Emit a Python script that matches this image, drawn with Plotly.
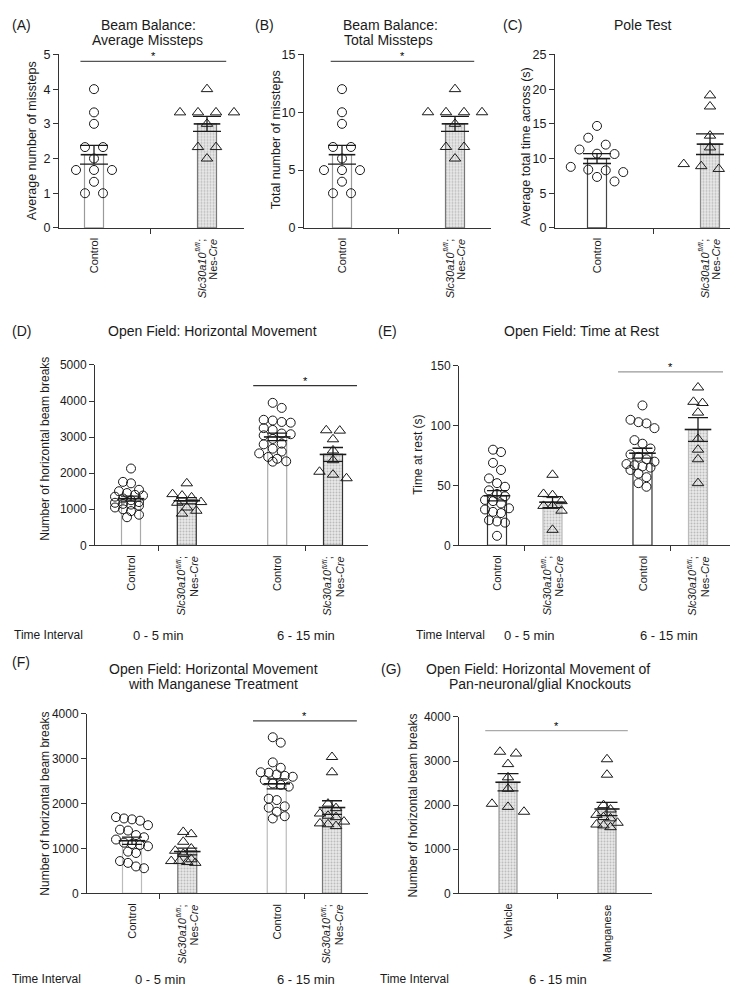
import numpy as np
import plotly.graph_objects as go

W, H = 738, 987
FONT = "Arial, Liberation Sans, Helvetica, sans-serif"
INK = "#1a1a1a"

# ---------------- data ----------------
GENE = "Slc30a10"
ALLELE = "fl/fl"
DRIVER = "Nes-<i>Cre</i>"
TWO_GROUP_LABELS = ["Control", "MUT"]
FOUR_GROUP_LABELS = ["Control", "MUT", "Control", "MUT"]
G_LABELS = ["Vehicle", "Manganese"]
TIME_INTERVALS = ["0 - 5 min", "6 - 15 min"]

A_CONTROL = [4.0, 3.33, 3.0, 2.33, 2.33, 2.0, 1.67, 1.67, 1.67, 1.33, 1.0, 1.0]
A_MUTANT = [4.0, 3.33, 3.33, 3.33, 3.33, 3.0, 2.33, 2.33, 2.0]
B_CONTROL = [12, 10, 9, 7, 7, 6, 5, 5, 5, 4, 3, 3]
B_MUTANT = [12, 10, 10, 10, 10, 9, 7, 7, 6]
C_CONTROL = [14.7, 13.0, 12.0, 11.3, 10.7, 10.65, 8.8, 8.4, 8.3, 8.05, 7.35, 6.7]
C_MUTANT = [19.1, 17.5, 13.3, 11.6, 9.2, 8.5, 8.5, 8.9]

D_CONTROL_0_5 = [2130, 1760, 1720, 1540, 1500, 1450, 1400, 1380, 1350, 1300, 1250,
                 1200, 1180, 1150, 1130, 1100, 1050, 1000, 950, 850, 780]
D_MUTANT_0_5 = [1720, 1420, 1380, 1330, 1200, 1180, 1050, 960, 880]
D_CONTROL_6_15 = [3950, 3810, 3480, 3460, 3420, 3400, 3250, 3200, 3100, 3080, 3050,
                  2950, 2820, 2800, 2680, 2600, 2550, 2450, 2400, 2330, 2320]
D_MUTANT_6_15 = [3180, 3190, 2940, 2630, 2360, 2040, 1860, 1960]

E_CONTROL_0_5 = [80, 78, 69, 63, 56, 52, 49, 46, 43, 41, 38, 37, 35, 31, 30, 28, 27,
                 21, 20, 19, 8]
E_MUTANT_0_5 = [59, 43, 42, 37, 33, 33, 29, 13]
E_CONTROL_6_15 = [117, 105, 103, 102, 98, 88, 85, 81, 76, 74, 72, 70, 68, 67, 66, 65,
                  63, 60, 57, 52, 49]
E_MUTANT_6_15 = [132, 120, 119, 111, 89, 80, 72, 52]

F_CONTROL_0_5 = [1700, 1670, 1650, 1620, 1520, 1420, 1400, 1300, 1250, 1200, 1130,
                 1100, 1080, 1050, 930, 900, 720, 680, 600, 560]
F_MUTANT_0_5 = [1370, 1320, 1150, 1000, 950, 880, 760, 720, 720, 700, 680]
F_CONTROL_6_15 = [3480, 3360, 2920, 2800, 2700, 2690, 2650, 2620, 2600, 2520, 2450,
                  2420, 2380, 2110, 2080, 1940, 1910, 1820, 1720, 1670]
F_MUTANT_6_15 = [3040, 2700, 2000, 1900, 1780, 1730, 1700, 1600, 1560, 1540, 1500]

G_VEHICLE = [3170, 3210, 2930, 2630, 2370, 2030, 1850, 1960]
G_MANGANESE = [3040, 2690, 2000, 1900, 1780, 1730, 1700, 1600, 1560, 1540, 1500]

# ---------------- layout constants (pixels) ----------------
PATTERN = dict(shape=".", fgcolor="#8c8c8c", bgcolor="#e9e9e9", size=3, solidity=0.35)

# group tuple: (values, symbol, spacing px, max points per row, bar outline, patterned)
panels = [
    dict(key="A", xpx=(51, 236), ypx=(40, 216), cpx=(86, 199), pos=[0, 1], ymax=5, dtick=1,
         labels=TWO_GROUP_LABELS, mids=[0.5], cap=14, barpx=19,
         groups=[(A_CONTROL, "circle", 18, 6, "#9a9a9a", False), (A_MUTANT, "tri", 18, 6, "#777777", True)],
         sig=dict(x0=-0.12, x1=1.17, y=4.8, color="#555"),
         ytitle="Average number of missteps", ytpx=(24, 128), ytsize=12.5, tsize=12.5),
    dict(key="B", xpx=(296, 483), ypx=(40, 216), cpx=(334, 447), pos=[0, 1], ymax=15, dtick=5,
         labels=TWO_GROUP_LABELS, mids=[0.5], cap=14, barpx=19,
         groups=[(B_CONTROL, "circle", 18, 6, "#9a9a9a", False), (B_MUTANT, "tri", 18, 6, "#777777", True)],
         sig=dict(x0=-0.1, x1=1.17, y=14.4, color="#555"),
         ytitle="Total number of missteps", ytpx=(268, 127), ytsize=12.5, tsize=12.5),
    dict(key="C", xpx=(547, 737), ypx=(40, 216), cpx=(589, 702), pos=[0, 1], ymax=25, dtick=5,
         labels=TWO_GROUP_LABELS, mids=[0.5], cap=14, barpx=19,
         groups=[(C_CONTROL, "circle", 17.5, 4, "#444444", False), (C_MUTANT, "tri", 17.5, 4, "#888888", True)],
         sig=None,
         ytitle="Average total time across (s)", ytpx=(518, 134), ytsize=12.5, tsize=12.5),
    dict(key="D", xpx=(87, 360), ypx=(355, 538), cpx=(123, 325), pos=[0, 1, 2.62, 3.62], ymax=5000,
         dtick=1000, labels=FOUR_GROUP_LABELS, mids=[0.5, 3.12], cap=10, barpx=19,
         groups=[(D_CONTROL_0_5, "circle", 8, 4, "#aaaaaa", False), (D_MUTANT_0_5, "tri", 9.5, 4, "#333333", True),
                 (D_CONTROL_6_15, "circle", 9, 4, "#aaaaaa", False), (D_MUTANT_6_15, "tri", 13.5, 3, "#333333", True)],
         sig=dict(x0=2.19, x1=4.05, y=4426, color="#333"),
         ytitle="Number of horizontal beam breaks", ytpx=(37, 440), ytsize=12, tsize=12),
    dict(key="E", xpx=(451, 726), ypx=(356, 538), cpx=(489, 690), pos=[0, 1, 2.62, 3.62], ymax=150,
         dtick=50, labels=FOUR_GROUP_LABELS, mids=[0.5, 3.12], cap=10, barpx=19,
         groups=[(E_CONTROL_0_5, "circle", 8, 4, "#333333", False), (E_MUTANT_0_5, "tri", 9, 3, "#bbbbbb", True),
                 (E_CONTROL_6_15, "circle", 8, 4, "#333333", False), (E_MUTANT_6_15, "tri", 9, 3, "#bbbbbb", True)],
         sig=dict(x0=2.18, x1=4.07, y=145, color="#999"),
         ytitle="Time at rest (s)", ytpx=(410, 446), ytsize=12, tsize=12),
    dict(key="F", xpx=(79, 360), ypx=(709, 891), cpx=(124, 324), pos=[0, 1, 2.62, 3.62], ymax=4000,
         dtick=1000, labels=FOUR_GROUP_LABELS, mids=[0.5, 3.12], cap=10, barpx=19,
         groups=[(F_CONTROL_0_5, "circle", 8, 5, "#bbbbbb", False), (F_MUTANT_0_5, "tri", 8, 5, "#777777", True),
                 (F_CONTROL_6_15, "circle", 8, 5, "#bbbbbb", False), (F_MUTANT_6_15, "tri", 8, 5, "#777777", True)],
         sig=dict(x0=2.19, x1=4.07, y=3846, color="#444"),
         ytitle="Number of horizontal beam breaks", ytpx=(37, 800), ytsize=12, tsize=12),
    dict(key="G", xpx=(451, 644), ypx=(712, 891), cpx=(500, 599), pos=[0, 1], ymax=4000,
         dtick=1000, labels=G_LABELS, mids=[0.5], cap=10.5, barpx=18,
         groups=[(G_VEHICLE, "tri", 16, 3, "#999999", True), (G_MANGANESE, "tri", 7, 5, "#999999", True)],
         sig=dict(x0=-0.23, x1=1.21, y=3687, color="#aaa"),
         ytitle="Number of horizontal beam breaks", ytpx=(405, 802), ytsize=12, tsize=12),
]

titles = [  # (text, x center px, y center px)
    ("Beam Balance:", 140, 10), ("Average Missteps", 139, 25),
    ("Beam Balance:", 382, 10), ("Total Missteps", 380, 25),
    ("Pole Test", 634, 10),
    ("Open Field: Horizontal Movement", 204, 321),
    ("Open Field: Time at Rest", 573, 321),
    ("Open Field: Horizontal Movement", 205, 663), ("with Manganese Treatment", 205, 679),
    ("Open Field: Horizontal Movement of", 530, 663), ("Pan-neuronal/glial Knockouts", 532, 679),
]
panel_tags = [("(A)", 2, 10), ("(B)", 245, 10), ("(C)", 493, 10), ("(D)", 2, 321),
              ("(E)", 368, 321), ("(F)", 2, 656), ("(G)", 371, 663)]
interval_rows = [  # (label texts, centers px, y px)
    (TIME_INTERVALS, [150, 298], 629), (TIME_INTERVALS, [521, 661], 629),
    (TIME_INTERVALS, [152, 298], 978), (TIME_INTERVALS[1:], [550], 978),
]
interval_heads = [(4, 629), (406, 629), (2, 978), (370, 978)]
CAT_FONT = 11
SUP_FONT = 7.5
CAT_GAP = 9              # px between axis line and the end of a rotated category label
LINE1_SHIFT, LINE2_SHIFT, SUP_RAISE = -5.5, 6.5, -3.5
# advance widths (em) of the Arial/Liberation glyph runs, to chain the rotated pieces
EM_SEMI, EM_ALLELE = 0.278, 1.278


def fx(px):
    return px / W


def fy(py):
    return 1 - py / H


def swarm(vals, ypu, xpu, spacing, maxrow, rowh=9.0, diam=9.0):
    n = len(vals)
    order = sorted(range(n), key=lambda i: -vals[i])
    rows, cur, start = [], [], None
    for i in order:
        y = vals[i] * ypu
        if cur and (start - y > rowh or len(cur) >= maxrow):
            rows.append(cur)
            cur = []
        if not cur:
            start = y
        cur.append(i)
    if cur:
        rows.append(cur)
    placed = []
    off = [0.0] * n
    for row in rows:
        k = len(row)
        base = [(j - (k - 1) / 2) * spacing for j in range(k)]
        best = None
        for shift in (0.0, spacing / 2, -spacing / 2):
            xs = [b + shift for b in base]
            cost = 0.0
            for xi, i in zip(xs, row):
                for (px, py) in placed:
                    d = ((xi - px) ** 2 + (vals[i] * ypu - py) ** 2) ** 0.5
                    if d < diam * 0.85:
                        cost += diam * 0.85 - d
            cost += abs(shift) * 0.01
            if best is None or cost < best[0]:
                best = (cost, xs)
        for xi, i in zip(best[1], row):
            off[i] = xi / xpu
            placed.append((xi, vals[i] * ypu))
    return off


fig = go.Figure()
layout = dict(
    width=W, height=H, margin=dict(l=0, r=0, t=0, b=0),
    paper_bgcolor="white", plot_bgcolor="white", showlegend=False,
    font=dict(family=FONT, color=INK), shapes=[], annotations=[],
)


def cat_label(text, xa, x, top_px, xshift=0, size=CAT_FONT):
    return dict(text=text, xref=xa, yref="paper", x=x, y=fy(top_px), xshift=xshift,
                textangle=-90, showarrow=False, xanchor="center", yanchor="top",
                font=dict(size=size, family=FONT, color=INK))


def genotype_label(xa, x, axis_px):
    t0 = axis_px + CAT_GAP
    t1 = t0 + EM_SEMI * CAT_FONT
    t2 = t1 + EM_ALLELE * SUP_FONT
    return [
        cat_label(";", xa, x, t0, LINE1_SHIFT),
        cat_label("<i>%s</i>" % ALLELE, xa, x, t1, LINE1_SHIFT + SUP_RAISE, SUP_FONT),
        cat_label("<i>%s</i>" % GENE, xa, x, t2, LINE1_SHIFT),
        cat_label(DRIVER, xa, x, t0, LINE2_SHIFT),
    ]


for k, p in enumerate(panels):
    n = "" if k == 0 else str(k + 1)
    xa, ya = "x" + n, "y" + n
    pos = p["pos"]
    unit = (p["cpx"][1] - p["cpx"][0]) / (pos[-1] - pos[0])
    xr = [pos[0] - (p["cpx"][0] - p["xpx"][0]) / unit, pos[-1] + (p["xpx"][1] - p["cpx"][1]) / unit]
    ypu = (p["ypx"][1] - p["ypx"][0]) / p["ymax"]
    bw = p["barpx"] / unit

    means, sems = [], []
    for gi, (vals, sym, spc, maxrow, lcol, patterned) in enumerate(p["groups"]):
        v = np.array(vals, dtype=float)
        m = v.mean()
        s = v.std(ddof=1) / np.sqrt(len(v))
        means.append(m)
        sems.append(s)
        marker = dict(color="white", line=dict(color=lcol, width=1.2))
        if patterned:
            marker = dict(color="#e9e9e9", pattern=PATTERN, line=dict(color=lcol, width=1.2))
        fig.add_trace(go.Bar(x=[pos[gi]], y=[m], width=[bw], marker=marker,
                             xaxis=xa, yaxis=ya, hoverinfo="skip"))
        offs = swarm(vals, ypu, unit, spc, maxrow)
        symbol = "circle-open" if sym == "circle" else "triangle-up-open"
        size = 9 if sym == "circle" else 10
        fig.add_trace(go.Scatter(
            x=[pos[gi] + o for o in offs], y=vals, mode="markers", cliponaxis=False,
            marker=dict(symbol=symbol, size=size, color=INK, line=dict(width=1, color=INK)),
            xaxis=xa, yaxis=ya, hoverinfo="skip"))
    # mean line + SEM whiskers on top
    fig.add_trace(go.Scatter(
        x=pos, y=means, mode="markers", cliponaxis=False,
        marker=dict(symbol="line-ew", size=p["barpx"], color=INK, line=dict(width=1.6, color=INK)),
        error_y=dict(type="data", array=sems, visible=True, width=p["cap"], thickness=1.3, color=INK),
        xaxis=xa, yaxis=ya, hoverinfo="skip"))

    layout["xaxis" + n] = dict(
        domain=[fx(p["xpx"][0]), fx(p["xpx"][1])], anchor=ya, range=xr,
        showline=True, linecolor="#333", linewidth=1, showgrid=False, zeroline=False,
        showticklabels=False, ticks="",
        minor=dict(tickmode="array", tickvals=p["mids"], ticks="outside", ticklen=5,
                   tickcolor="#333", tickwidth=1, showgrid=False),
        fixedrange=True,
    )
    layout["yaxis" + n] = dict(
        domain=[fy(p["ypx"][1]), fy(p["ypx"][0])], anchor=xa, range=[0, p["ymax"]],
        showline=True, linecolor="#333", linewidth=1, showgrid=False, zeroline=False,
        ticks="outside", ticklen=5, tickcolor="#333", dtick=p["dtick"], tick0=0,
        tickfont=dict(size=p["tsize"], family=FONT, color=INK), fixedrange=True,
    )
    # category labels (rotated, read bottom-to-top, ending just under the axis)
    for x, lab in zip(pos, p["labels"]):
        if lab == "MUT":
            layout["annotations"].extend(genotype_label(xa, x, p["ypx"][1]))
        else:
            layout["annotations"].append(cat_label(lab, xa, x, p["ypx"][1] + CAT_GAP))
    layout["annotations"].append(dict(
        text=p["ytitle"], x=fx(p["ytpx"][0]), y=fy(p["ytpx"][1]), xref="paper", yref="paper",
        textangle=-90, showarrow=False, xanchor="center", yanchor="middle",
        font=dict(size=p["ytsize"], family=FONT, color=INK)))
    if p["sig"]:
        sg = p["sig"]
        layout["shapes"].append(dict(type="line", xref=xa, yref=ya, x0=sg["x0"], x1=sg["x1"],
                                     y0=sg["y"], y1=sg["y"], line=dict(color=sg["color"], width=1.2)))
        layout["annotations"].append(dict(
            text="*", xref=xa, yref=ya, x=(sg["x0"] + sg["x1"]) / 2, y=sg["y"], yanchor="bottom",
            showarrow=False, yshift=-3, font=dict(size=11, family=FONT, color="#000000")))

for text, cx, cy in titles:
    layout["annotations"].append(dict(text=text, x=fx(cx), y=fy(cy), xref="paper", yref="paper",
                                      showarrow=False, xanchor="center", yanchor="middle",
                                      font=dict(size=14, family=FONT, color=INK)))
for text, lx, cy in panel_tags:
    layout["annotations"].append(dict(text=text, x=fx(lx), y=fy(cy), xref="paper", yref="paper",
                                      showarrow=False, xanchor="left", yanchor="middle",
                                      font=dict(size=14, family=FONT, color=INK)))
for (lx, cy) in interval_heads:
    layout["annotations"].append(dict(text="Time Interval", x=fx(lx), y=fy(cy), xref="paper",
                                      yref="paper", showarrow=False, xanchor="left", yanchor="middle",
                                      font=dict(size=12, family=FONT, color=INK)))
for texts, centers, cy in interval_rows:
    for t, cx in zip(texts, centers):
        layout["annotations"].append(dict(text=t, x=fx(cx), y=fy(cy), xref="paper", yref="paper",
                                          showarrow=False, xanchor="center", yanchor="middle",
                                          font=dict(size=13, family=FONT, color=INK)))

fig.update_layout(**layout)
fig.write_html("out.html")
